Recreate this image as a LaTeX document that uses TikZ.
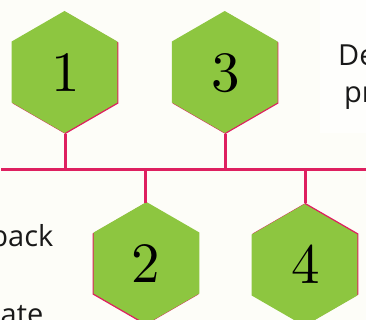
\documentclass[tikz,border=0pt]{standalone}
\usepackage{fontspec}
\newfontfamily\labelfont{Open Sans}
\newfontfamily\digitfont{lmroman10-regular.otf}
\definecolor{hexgreen}{RGB}{141,198,64}
\definecolor{hexpink}{RGB}{222,32,96}
\definecolor{bgcol}{RGB}{253,253,248}
\tikzset{
  hexnode/.style={circle, minimum size=122pt, inner sep=0pt, font=\digitfont\fontsize{57}{60}\selectfont},
  wire/.style={draw=hexpink, line width=2.5pt},
  bus/.style={draw=hexpink, line width=3pt},
  sidetext/.style={font=\labelfont\fontsize{29}{35}\selectfont, text=black!90, inner sep=0pt},
}
\newcommand{\hexshape}[4]{% center x, center y, dx, dy
  \fill[hexpink] ($(#1,#2)+(90:61pt)$) -- ++(-30:61pt) -- ++(-90:61pt) -- ++(-150:61pt) -- ++(150:61pt) -- ++(90:61pt) -- cycle;
  \fill[hexgreen] ($(#1,#2)+(#3,#4)+(90:61pt)$) -- ++(-30:61pt) -- ++(-90:61pt) -- ++(-150:61pt) -- ++(150:61pt) -- ++(90:61pt) -- cycle;
}
\usetikzlibrary{calc}
\begin{document}
\begin{tikzpicture}[x=1pt,y=-1pt]
\fill[bgcol] (0,0) rectangle (366,320);
\fill[white!60!bgcol] (320,0) rectangle (366,133);
\useasboundingbox (0,0) rectangle (366,320);
% bus
\coordinate (busL) at (1,169.5);
\coordinate (busR) at (366,169.5);
\draw[bus] (busL) -- (busR);
% hexagons
\hexshape{65.5}{73}{-1}{-1}
\hexshape{225.5}{73}{-0.8}{-1}
\hexshape{145.5}{264}{1}{-1}
\hexshape{305.5}{264}{-1}{1}
\node[hexnode] (h1) at (65.5,73) {1};
\node[hexnode] (h3) at (225.5,73) {3};
\node[hexnode] (h2) at (145.5,264) {2};
\node[hexnode] (h4) at (305.5,264) {4};
\draw[wire] (h1.south) -- (h1.south |- busL);
\draw[wire] (h3.south) -- (h3.south |- busL);
\draw[wire] (h2.north) -- (h2.north |- busL);
\draw[wire] (h4.north) -- (h4.north |- busL);
% side texts
\node[sidetext, anchor=base west] (t1) at (338,66) {De};
\node[sidetext, anchor=base west] (t2) at (344,103) {pr};
\node[sidetext, anchor=base east] (t3) at (53.5,246) {back};
\node[sidetext, anchor=base east] (t4) at (43.5,324) {ate};
\end{tikzpicture}
\end{document}
